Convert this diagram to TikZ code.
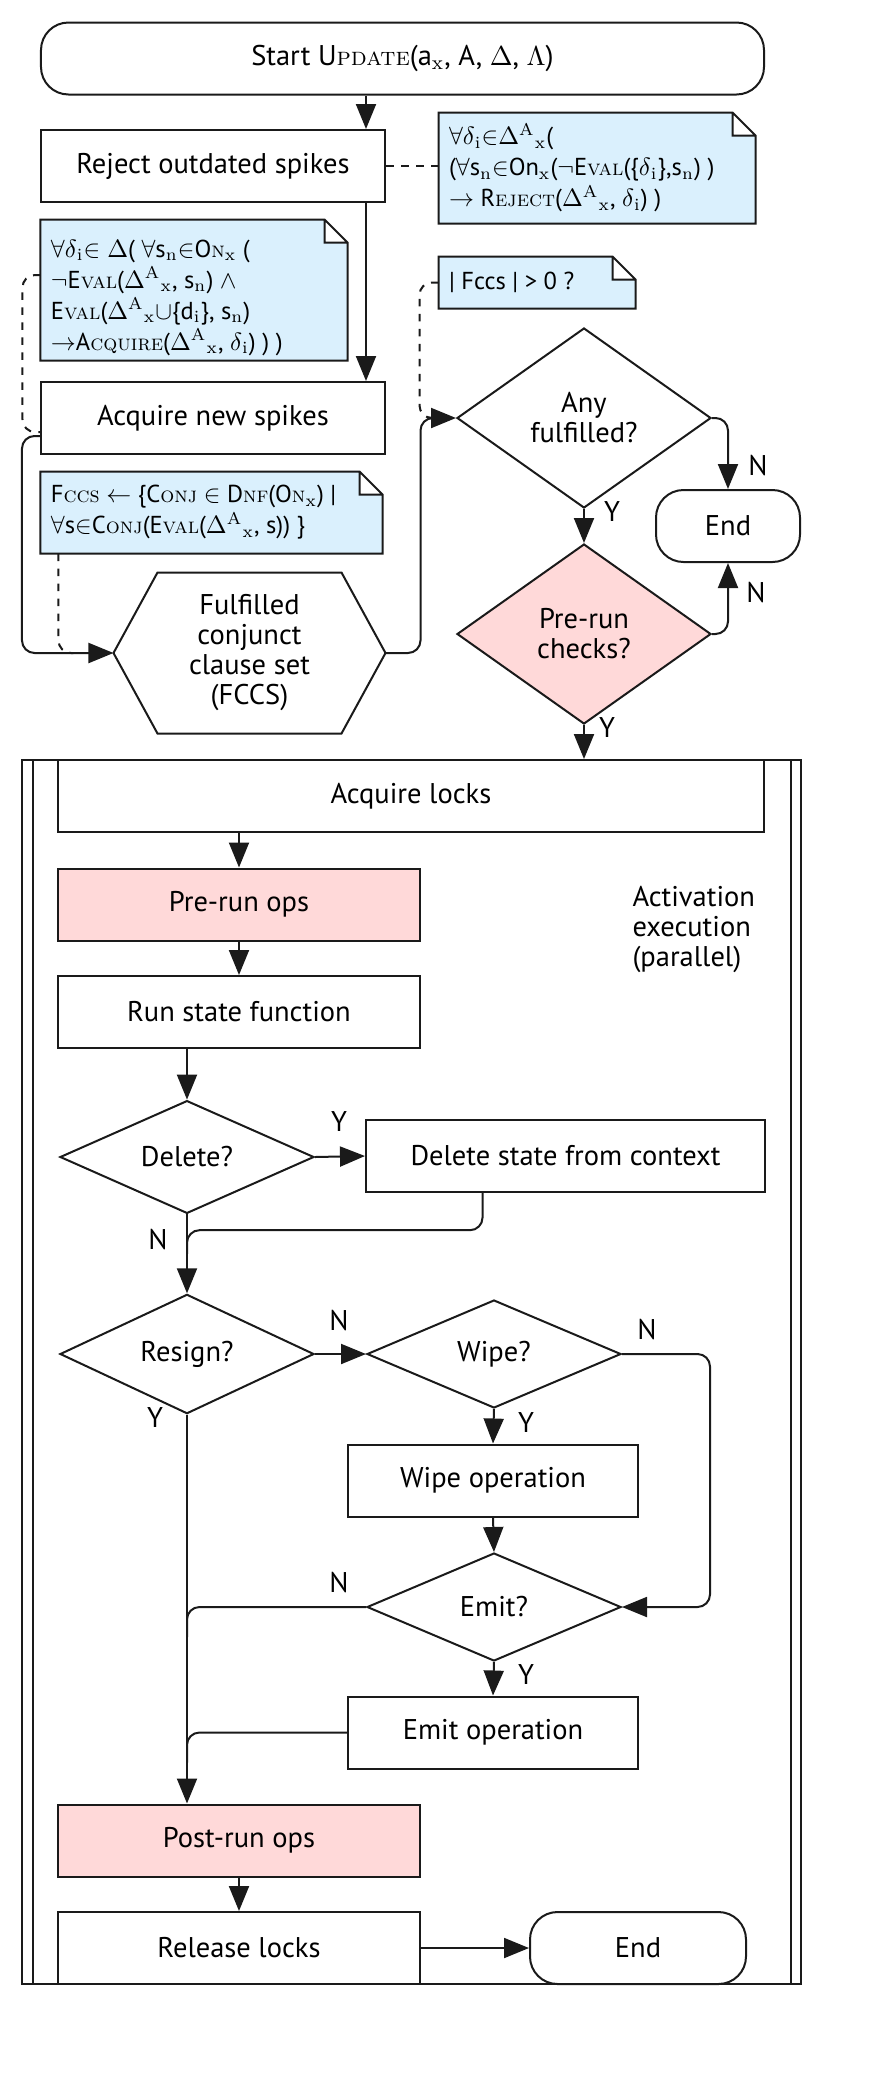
\documentclass[tikz,border=0pt]{standalone}
\usepackage{amsmath}
\usepackage{fontspec}
\setmainfont{PT Sans}
\usetikzlibrary{shapes.geometric,arrows.meta,calc}

\definecolor{linec}{RGB}{26,26,26}
\definecolor{notefill}{RGB}{218,240,253}
\definecolor{pinkfill}{RGB}{255,217,217}

\newcommand\lm{\fontfamily{lmr}\selectfont}
\newcommand\lsub[1]{\textsubscript{\lm #1}}
\makeatletter
\newcommand\opsc[1]{{\lm\scshape\fontsize{0.9\dimexpr\f@size pt\relax}{\f@baselineskip}\selectfont #1}}
\makeatother
\newcommand\dAx{$\Delta^{\text{\lm A}}{}_{\text{\lm x}}$}
\newcommand\di{$\delta$\lsub{i}}

\tikzset{
  box/.style={draw=linec, line width=0.8pt, fill=white, minimum width=137.6pt,
    minimum height=28.8pt, inner sep=2pt, align=center},
  pinkbox/.style={box, fill=pinkfill},
  term/.style={box, rounded corners=11pt},
  decision/.style={diamond, draw=linec, line width=0.8pt, fill=white, minimum width=101.6pt,
    minimum height=43.2pt, inner sep=0pt, align=center},
  notebox/.style={minimum width=#1, inner sep=0pt},
  notetext/.style={anchor=west, align=left, inner sep=0pt,
    font=\fontsize{9.8pt}{12.4pt}\selectfont},
  flow/.style={draw=linec, line width=0.8pt, rounded corners=5pt,
    -{Triangle[length=10pt,width=8pt]}},
  merge/.style={draw=linec, line width=0.8pt, rounded corners=5pt},
  comment/.style={draw=linec, line width=0.8pt, dashed, rounded corners=5pt},
  yn/.style={inner sep=0pt}
}

\begin{document}
\begin{tikzpicture}[x=0.4pt, y=-0.4pt, font=\fontsize{11.4pt}{12pt}\selectfont]
  \useasboundingbox (0,0) rectangle (886,2074);

  % setup part
  \node[term, minimum width=289.2pt] (start) at (402.5,58.5)
    {Start U\opsc{pdate}(a\lsub{x}, A, $\Delta$, $\Lambda$)};
  \node[box] (reject) at (213,166) {Reject outdated spikes};
  \node[box] (acq) at (213,418) {Acquire new spikes};
  \node[notebox=126.4pt, minimum height=44pt] (rejnote) at (597,168) {};
  \node[notebox=122.4pt, minimum height=56pt] (acqnote) at (194,290) {};
  \node[notebox=78.4pt, minimum height=20.4pt] (anynote) at (537,282.5) {};
  \node[notebox=136.4pt, minimum height=32.4pt] (fccsnote) at (211.5,512.5) {};
  \foreach \n in {rejnote,acqnote,anynote,fccsnote}
    \filldraw[fill=notefill, draw=linec, line width=0.8pt] (\n.south west) -- (\n.north west)
      -- ([xshift=-9.2pt]\n.north east) -- ([yshift=-9.2pt]\n.north east) -- (\n.south east) -- cycle
      ([xshift=-9.2pt]\n.north east) |- ([yshift=-9.2pt]\n.north east);
  \node[notetext] (rejtxt) at ([xshift=4pt]rejnote.west)
    {$\forall$\di$\in$\dAx(\\
     ($\forall$s\lsub{n}$\in$On\lsub{x}($\neg$E\opsc{val}(\{\di\},s\lsub{n}) )\\
     $\rightarrow$ R\opsc{eject}(\dAx, \di) )};
  \node[notetext] (acqtxt) at ([xshift=4pt,yshift=-3pt]acqnote.west)
    {$\forall$\di$\in\Delta$( $\forall$s\lsub{n}$\in$O\opsc{n}\lsub{x} (\\
     $\neg$E\opsc{val}(\dAx, s\lsub{n}) $\wedge$\\
     E\opsc{val}(\dAx$\cup$\{d\lsub{i}\}, s\lsub{n})\\
     $\rightarrow$A\opsc{cquire}(\dAx, \di) ) )};
  \node[notetext] (anytxt) at ([xshift=4pt]anynote.west) {| Fccs | > 0 ?};
  \node[notetext] (fccstxt) at ([xshift=4pt]fccsnote.west)
    {F\opsc{ccs} $\leftarrow$ \{C\opsc{onj} $\in$ D\opsc{nf}(O\opsc{n}\lsub{x}) |\\
     $\forall$s$\in$C\opsc{onj}(E\opsc{val}(\dAx, s)) \}};
  \node[minimum width=108.4pt, minimum height=64pt, align=center, inner sep=0pt] (fccs) at (249.5,653)
    {Fulfilled\\conjunct\\clause set\\(FCCS)};
  \draw[linec, line width=0.8pt] (fccs.west) -- ([xshift=17.6pt]fccs.north west)
    -- ([xshift=-17.6pt]fccs.north east) -- (fccs.east)
    -- ([xshift=-17.6pt]fccs.south east) -- ([xshift=17.6pt]fccs.south west) -- cycle;
  \node[decision, minimum height=72pt] (any) at (584,418) {Any\\fulfilled?};
  \node[decision, minimum height=72pt, fill=pinkfill] (prerun) at (584,634) {Pre-run\\checks?};
  \node[term, minimum width=57.6pt] (end1) at (728,526) {End};

  % parallel execution
  \node[draw=linec, line width=0.8pt, minimum width=311.6pt, minimum height=489.6pt] (parbox) at (411.5,1372) {};
  \draw[linec, line width=0.8pt] ([xshift=4.8pt]parbox.north west) -- ([xshift=4.8pt]parbox.south west);
  \draw[linec, line width=0.8pt] ([xshift=-4.4pt]parbox.north east) -- ([xshift=-4.4pt]parbox.south east);
  \node[box, minimum width=282.4pt] (locks) at (411,796) {Acquire locks};
  \node[pinkbox, minimum width=144.8pt] (preops) at (239,904.5) {Pre-run ops};
  \node[box, minimum width=144.8pt] (runfn) at (239,1012) {Run state function};
  \node[align=left, anchor=west, inner sep=0pt] (partxt) at (632,929) {Activation\\execution\\(parallel)};
  \node[decision] (delq) at (187,1157) {Delete?};
  \node[box, minimum width=159.6pt] (delst) at (565.5,1156) {Delete state from context};
  \node[decision] (resign) at (187,1354) {Resign?};
  \node[decision] (wipe) at (494,1354) {Wipe?};
  \node[box, minimum width=116pt] (wipeop) at (493,1480.5) {Wipe operation};
  \node[decision] (emit) at (494,1607) {Emit?};
  \node[box, minimum width=116pt] (emitop) at (493,1732.5) {Emit operation};
  \node[pinkbox, minimum width=144.8pt] (postops) at (239,1840.5) {Post-run ops};
  \node[box, minimum width=144.8pt] (release) at (239,1948) {Release locks};
  \node[term, minimum width=86.4pt] (end2) at (638,1948) {End};

  % connectors
  \coordinate (spine) at (366,0);
  \draw[flow] (start.south -| spine) -- (reject.north -| spine);
  \draw[flow] (reject.south -| spine) -- (acq.north -| spine);
  \draw[flow] ([yshift=-7.2pt]acq.west) -- ++(-18,0) |- (fccs.west);
  \draw[flow] (fccs.east) -- ++(35,0) |- (any.west);
  \draw[flow] (any.east) -| (end1.north);
  \draw[flow] (any.south) -- (prerun.north);
  \draw[flow] (prerun.east) -| (end1.south);
  \draw[flow] (prerun.south) -- (prerun.south |- locks.north);
  \draw[flow] (locks.south -| preops) -- (preops.north);
  \draw[flow] (preops.south) -- (runfn.north);
  \draw[flow] (runfn.south -| delq) -- (delq.north);
  \draw[flow] (delq.east) -- (delst.west);
  \draw[flow] (delq.south) -- (resign.north);
  \draw[merge] ([xshift=-33.2pt]delst.south) |- ($(delq.south)!0.2!(resign.north)$)
    -- ($(delq.south)!0.5!(resign.north)$);
  \draw[flow] (resign.east) -- (wipe.west);
  \draw[flow] (wipe.south) -- (wipeop.north);
  \draw[flow] (wipeop.south) -- (emit.north);
  \draw[flow] (wipe.east) -- ++(88,0) |- (emit.east);
  \draw[flow] (emit.south) -- (emitop.north);
  \draw[flow] (resign.south) -- (resign.south |- postops.north);
  \draw[merge] (emit.west) -| ($(emit.west -| resign.south)+(0,30)$);
  \draw[merge] (emitop.west) -| ($(emitop.west -| resign.south)+(0,30)$);
  \draw[flow] (postops.south) -- (release.north);
  \draw[flow] (release.east) -- (end2.west);

  % comments
  \draw[comment] (reject.east) -- (reject.east -| rejnote.west);
  \draw[comment] ([yshift=6pt]acqnote.west) -- ++(-18,0) |- ([yshift=-5.6pt]acq.west);
  \draw[comment] ([xshift=7.2pt]fccsnote.south west) |- ([xshift=-16pt]fccs.west);
  \draw[comment] (anynote.west) -- ++(-19,0) |- ([xshift=-10pt]any.west);

  % branch labels
  \node[yn] (n1) at (758,466) {N};
  \node[yn] (y1) at (612,512) {Y};
  \node[yn] (n2) at (756,593) {N};
  \node[yn] (y2) at (607,728) {Y};
  \node[yn] (y3) at (339,1122) {Y};
  \node[yn] (n3) at (158,1240) {N};
  \node[yn] (n4) at (339,1321) {N};
  \node[yn] (n5) at (647,1330) {N};
  \node[yn] (y4) at (526,1423) {Y};
  \node[yn] (y5) at (155,1418) {Y};
  \node[yn] (n6) at (339,1583) {N};
  \node[yn] (y6) at (526,1675) {Y};
\end{tikzpicture}
\end{document}
